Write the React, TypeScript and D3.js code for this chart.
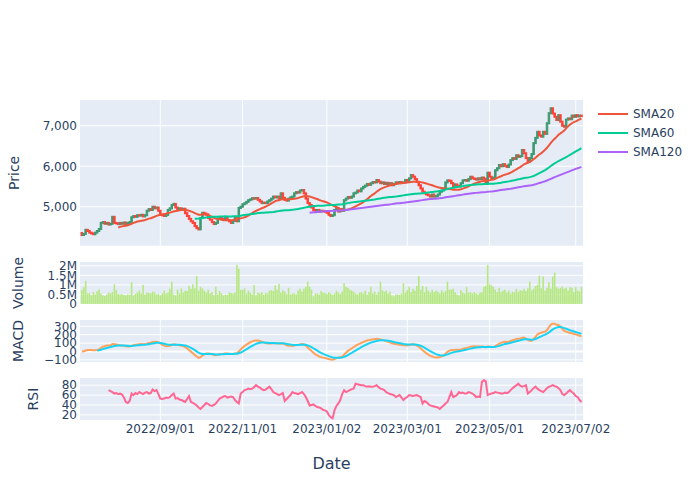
import React from "react";
import * as d3 from "d3";

// ---------- data ----------
const startDate = "2022-07-06";
const endDate = "2023-07-06";
const firstOpen = 4350;
const closes = [
  4300, 4330, 4430, 4400, 4360, 4340, 4320, 4360, 4400, 4450,
  4600, 4620, 4580, 4600, 4560, 4580, 4750, 4600, 4590, 4570,
  4600, 4580, 4610, 4570, 4600, 4620, 4740, 4770, 4750, 4790,
  4780, 4800, 4760, 4790, 4900, 4940, 4920, 5000, 4960, 4980,
  4900, 4800, 4790, 4770, 4800, 4920, 4960, 5040, 5070, 4980,
  4940, 4960, 4920, 4950, 4840, 4770, 4700, 4640, 4600, 4520,
  4470, 4440, 4720, 4850, 4830, 4810, 4720, 4680, 4620, 4572,
  4600, 4700, 4740, 4700, 4680, 4720, 4670, 4640, 4600, 4650,
  4720, 4640, 4970, 5000, 5060, 5084, 5120, 5160, 5180, 5210,
  5200, 5215, 5170, 5130, 5090, 5100, 5090, 5130, 5160, 5200,
  5250, 5230, 5250, 5200, 5330, 5220, 5170, 5150, 5200, 5230,
  5250, 5330, 5360, 5350, 5400, 5412, 5330, 5200, 5090, 5040,
  4980, 4920, 4900, 4920, 4880, 4900, 4890, 4880, 4850, 4800,
  4770, 4790, 4920, 4970, 4880, 4940, 4900, 5160, 5200, 5240,
  5220, 5250, 5330, 5350, 5400, 5380, 5450, 5490, 5520, 5560,
  5540, 5580, 5610, 5600, 5660, 5620, 5580, 5600, 5560, 5590,
  5550, 5580, 5530, 5560, 5600, 5580, 5610, 5590, 5600, 5660,
  5640, 5700, 5780, 5740, 5680, 5610, 5530, 5450, 5370, 5330,
  5300, 5280, 5250, 5300, 5250, 5260, 5300, 5370, 5400, 5450,
  5600, 5650, 5640, 5580, 5480, 5550, 5520, 5500, 5580, 5650,
  5660, 5640, 5680, 5740, 5700, 5690, 5670, 5700, 5680, 5720,
  5690, 5600, 5840, 5740, 5700, 5720, 5900, 5950, 6030, 6000,
  6050, 6010, 5980, 6040, 6150, 6200, 6180, 6270, 6230, 6250,
  6400, 6320, 6200, 6110, 6200, 6300, 6570, 6700, 6850, 6760,
  6730, 6850, 6800, 7060, 7310, 7430, 7300, 7220, 7140, 7260,
  7100, 7000, 6975, 7150, 7180, 7160, 7250, 7220, 7260, 7230,
  7250, 7240,
];
const volumesM = [
  0.74, 0.88, 1.21, 0.55, 0.58, 0.45, 0.62, 0.5, 0.66, 0.77,
  0.55, 0.45, 0.42, 0.5, 0.6, 0.55, 0.62, 1.03, 0.74, 0.52,
  0.5, 0.52, 0.48, 0.45, 0.5, 0.48, 1.14, 0.45, 0.52, 0.6,
  0.7, 0.55, 1.0, 0.5, 0.6, 0.58, 0.55, 0.65, 0.62, 0.5,
  0.52, 0.45, 0.55, 0.7, 0.55, 0.6, 0.8, 1.17, 0.5, 0.45,
  0.75, 0.55, 0.82, 0.6, 0.7, 0.68, 0.96, 0.8, 1.03, 0.82,
  1.47, 0.7, 0.9, 0.82, 0.7, 0.6, 0.75, 0.55, 0.62, 0.45,
  0.9, 0.5, 0.68, 0.55, 0.45, 0.5, 0.48, 0.6, 0.58, 0.55,
  0.6, 2.05, 1.84, 0.74, 0.74, 0.82, 0.55, 0.7, 0.6, 0.5,
  1.0, 0.45, 0.6, 0.55, 0.62, 0.48, 0.58, 0.55, 0.7, 0.72,
  0.68, 0.98, 0.75, 1.05, 0.6, 0.72, 0.65, 0.52, 0.85, 0.5,
  0.55, 0.55, 0.5, 0.7, 0.8, 0.65, 0.8, 0.9, 1.17, 0.9,
  0.75, 0.4, 0.55, 0.55, 0.5, 0.68, 0.6, 0.58, 0.52, 0.62,
  0.55, 0.48, 0.55, 0.7, 0.6, 0.52, 0.65, 1.09, 0.9, 0.85,
  0.75, 0.7, 0.65, 0.55, 0.5, 0.6, 0.62, 0.55, 0.7, 0.5,
  0.62, 0.9, 0.55, 0.65, 0.5, 0.62, 1.17, 0.72, 0.65, 0.7,
  0.55, 0.65, 0.45, 0.4, 0.5, 0.5, 0.48, 0.55, 1.09, 0.6,
  0.72, 0.9, 0.62, 0.8, 0.7, 0.95, 1.47, 0.75, 0.95, 0.62,
  0.9, 0.7, 0.6, 0.75, 0.62, 0.7, 0.65, 0.55, 0.72, 0.6,
  0.68, 1.17, 0.75, 0.75, 0.8, 0.62, 0.5, 0.45, 0.72, 0.6,
  0.55, 0.9, 0.6, 0.62, 0.55, 0.62, 0.55, 0.5, 0.6, 0.62,
  0.9, 0.95, 2.05, 1.03, 0.98, 0.9, 0.75, 0.62, 0.85, 0.62,
  0.7, 0.75, 0.6, 0.7, 0.55, 0.65, 0.62, 0.8, 0.62, 0.72,
  0.7, 0.8, 0.68, 0.82, 1.17, 0.72, 0.8, 0.95, 1.0, 1.49,
  0.82, 1.44, 0.7, 0.85, 1.14, 0.8, 1.44, 1.65, 0.88, 0.8,
  0.85, 0.92, 0.8, 0.85, 0.7, 0.88, 0.85, 0.62, 0.88, 0.7,
  0.65, 0.9,
];
// RSI(14), starting at trading day index 14
const rsiStart = 14;
const rsiValues = [
  70, 68, 66, 63, 64, 62, 63, 61, 55, 46,
  44, 48, 63, 60, 64, 62, 66, 64, 62, 65,
  66, 63, 64, 71, 68, 70, 62, 53, 52, 53,
  55, 54, 56, 60, 63, 53, 54, 51, 50, 48,
  46, 52, 58, 46, 44, 42, 39, 35, 32, 36,
  40, 44, 42, 39, 38, 40, 43, 48, 53, 55,
  57, 58, 55, 56, 57, 56, 50, 46, 43, 63,
  66, 70, 71, 73, 72, 73, 76, 80, 77, 75,
  72, 70, 71, 74, 77, 72, 66, 64, 62, 60,
  62, 64, 48, 52, 56, 60, 66, 64, 63, 62,
  64, 66, 62, 56, 48, 39, 40, 41, 38, 36,
  35, 33, 30, 29, 27, 20, 15, 13, 29, 38,
  43, 50, 62, 70, 66, 68, 70, 72, 73, 83,
  82, 81, 80, 80, 78, 77, 78, 77, 77, 78,
  80, 76, 73, 72, 70, 66, 64, 62, 61, 60,
  56, 58, 60, 55, 50, 54, 56, 60, 59, 58,
  59, 60, 58, 56, 43, 48, 46, 42, 39, 38,
  37, 36, 35, 32, 36, 39, 43, 46, 56, 66,
  56, 58, 60, 66, 64, 65, 63, 63, 66, 65,
  63, 60, 56, 57, 56, 87, 90, 88, 60, 62,
  63, 64, 66, 65, 64, 63, 63, 65, 64, 66,
  70, 74, 77, 80, 83, 79, 77, 78, 80, 63,
  66, 70, 74, 77, 73, 70, 68, 66, 70, 74,
  77, 78, 80, 78, 77, 74, 70, 62, 60, 63,
  67, 70, 66, 63, 58, 56, 50, 46,
];
const tickDates = ["2022-09-01", "2022-11-01", "2023-01-02", "2023-03-01", "2023-05-01", "2023-07-02"];
const priceTicks = [5000, 6000, 7000];
const volumeTicks = [0, 0.5e6, 1e6, 1.5e6, 2e6];
const volumeTickLabels = ["0", "0.5M", "1M", "1.5M", "2M"];
const macdTicks = [-100, 0, 100, 200, 300];
const rsiTicks = [20, 40, 60, 80];
const smaPeriods = [20, 60, 120];
const smaNames = ["SMA20", "SMA60", "SMA120"];
const smaColors = ["#EF553B", "#00CC96", "#AB63FA"];

// ---------- helpers ----------
function tradingDays(a: string, b: string): Date[] {
  const out: Date[] = [];
  const d = new Date(a + "T00:00:00Z");
  const end = new Date(b + "T00:00:00Z");
  while (d <= end) {
    const w = d.getUTCDay();
    if (w !== 0 && w !== 6) out.push(new Date(d));
    d.setUTCDate(d.getUTCDate() + 1);
  }
  return out;
}
function sma(arr: number[], p: number): (number | null)[] {
  return arr.map((_, i) => (i >= p - 1 ? d3.mean(arr.slice(i - p + 1, i + 1))! : null));
}
function ema(arr: number[], span: number): number[] {
  const a = 2 / (span + 1);
  const out: number[] = [];
  arr.forEach((v, i) => out.push(i === 0 ? v : a * v + (1 - a) * out[i - 1]));
  return out;
}

const FONT = '"DejaVu Sans", Verdana, sans-serif';
const TXT = "#2a3f5f";
const BG = "#E5ECF6";

export default function App() {
  const N = closes.length;
  const dates = tradingDays(startDate, endDate).slice(0, N);
  const opens = closes.map((c, i) => (i === 0 ? firstOpen : closes[i - 1]));
  const volumes = volumesM.map((v) => v * 1e6);
  const smas = smaPeriods.map((p) => sma(closes, p));
  const e12 = ema(closes, 12);
  const e26 = ema(closes, 26);
  const macd = e12.map((v, i) => v - e26[i]);
  const signal = ema(macd, 9);
  const rsi: (number | null)[] = closes.map((_, i) =>
    i >= rsiStart && i - rsiStart < rsiValues.length ? rsiValues[i - rsiStart] : null
  );

  const L = 80, R = 583;
  const x = d3.scaleLinear().domain([-0.95, N - 0.2]).range([L, R]);
  const idxOf = (s: string) => {
    const t = new Date(s + "T00:00:00Z").getTime();
    return dates.findIndex((d) => d.getTime() >= t);
  };
  const ticks = tickDates.map((s) => ({ i: idxOf(s), label: s.replace(/-/g, "/") }));

  const panels = {
    price: { top: 100, bottom: 245.7 },
    vol: { top: 262, bottom: 304 },
    macd: { top: 320, bottom: 362 },
    rsi: { top: 378, bottom: 420 },
  };
  const yP = d3.scaleLinear().domain([4037, 7635]).range([panels.price.bottom, panels.price.top]);
  const yV = d3.scaleLinear().domain([0, 2.2e6]).range([panels.vol.bottom, panels.vol.top]);
  const yM = d3.scaleLinear().domain([-125, 375]).range([panels.macd.bottom, panels.macd.top]);
  const yR = d3.scaleLinear().domain([9.6, 94.5]).range([panels.rsi.bottom, panels.rsi.top]);

  const lineGen = (y: d3.ScaleLinear<number, number>) =>
    d3
      .line<number | null>()
      .defined((d) => d !== null)
      .x((_, i) => x(i))
      .y((d) => y(d as number));

  const vgrid = (p: { top: number; bottom: number }) =>
    ticks.map((t, k) => (
      <line key={"vg" + k} x1={x(t.i)} x2={x(t.i)} y1={p.top} y2={p.bottom} stroke="#fff" strokeWidth={1} />
    ));
  const hgrid = (vals: number[], y: d3.ScaleLinear<number, number>, zero = false) =>
    vals.map((v, k) => (
      <line key={"hg" + k} x1={L} x2={R} y1={y(v)} y2={y(v)} stroke="#fff" strokeWidth={zero && v === 0 ? 2 : 1} />
    ));
  const yLabels = (vals: number[], y: d3.ScaleLinear<number, number>, fmt: (v: number, k: number) => string) =>
    vals.map((v, k) => (
      <text key={"yl" + k} x={77} y={y(v)} dy="0.36em" textAnchor="end" fontSize={12} fill={TXT} fontFamily={FONT}>
        {fmt(v, k)}
      </text>
    ));
  const clip = (id: string, p: { top: number; bottom: number }) => (
    <clipPath id={id}>
      <rect x={L} y={p.top} width={R - L} height={p.bottom - p.top} />
    </clipPath>
  );
  const title = (t: string, cx: number, cy: number) => (
    <text transform={`translate(${cx},${cy}) rotate(-90)`} textAnchor="middle" dy="0.36em" fontSize={14} fill={TXT} fontFamily={FONT}>
      {t}
    </text>
  );

  const bw = 1.5;
  return (
    <svg width={700} height={500} style={{ position: "absolute", left: 0, top: 0, background: "#fff" }}>
      <defs>
        {clip("cp", panels.price)}
        {clip("cv", panels.vol)}
        {clip("cm", panels.macd)}
        {clip("cr", panels.rsi)}
      </defs>
      {Object.values(panels).map((p, k) => (
        <rect key={k} x={L} y={p.top} width={R - L} height={p.bottom - p.top} fill={BG} />
      ))}

      {/* Price */}
      {vgrid(panels.price)}
      {hgrid(priceTicks, yP)}
      <g clipPath="url(#cp)">
        {closes.map((c, i) => {
          const o = opens[i];
          const up = c >= o;
          const col = up ? "#3D9970" : "#FF4136";
          const y1 = yP(Math.max(o, c));
          const y2 = yP(Math.min(o, c));
          return (
            <rect key={i} x={x(i) - bw / 2} y={y1 - 0.5} width={bw} height={Math.max(y2 - y1, 0.5) + 1} fill={col} stroke={col} strokeWidth={1} />
          );
        })}
        {smas.map((s, k) => (
          <path key={k} d={lineGen(yP)(s) || ""} fill="none" stroke={smaColors[k]} strokeWidth={2} />
        ))}
      </g>
      {yLabels(priceTicks, yP, (v) => d3.format(",")(v))}
      {title("Price", 14, (panels.price.top + panels.price.bottom) / 2)}

      {/* Volume */}
      {hgrid(volumeTicks, yV)}
      <g clipPath="url(#cv)">
        {volumes.map((v, i) => (
          <rect key={i} x={x(i) - 0.8} y={yV(v)} width={1.6} height={yV(0) - yV(v)} fill="#B6E880" />
        ))}
      </g>
      {yLabels(volumeTicks, yV, (_, k) => volumeTickLabels[k])}
      {title("Volume", 18, (panels.vol.top + panels.vol.bottom) / 2)}

      {/* MACD */}
      {vgrid(panels.macd)}
      {hgrid(macdTicks, yM, true)}
      <g clipPath="url(#cm)">
        <path d={lineGen(yM)(macd) || ""} fill="none" stroke="#FFA15A" strokeWidth={2} />
        <path d={lineGen(yM)(signal.map((v, i) => (i >= 8 ? v : null))) || ""} fill="none" stroke="#19D3F3" strokeWidth={2} />
      </g>
      {yLabels(macdTicks, yM, (v) => (v < 0 ? "\u2212" + Math.abs(v) : String(v)))}
      {title("MACD", 18, (panels.macd.top + panels.macd.bottom) / 2)}

      {/* RSI */}
      {vgrid(panels.rsi)}
      {hgrid(rsiTicks, yR)}
      <g clipPath="url(#cr)">
        <path d={lineGen(yR)(rsi) || ""} fill="none" stroke="#FF6692" strokeWidth={2} />
      </g>
      {yLabels(rsiTicks, yR, (v) => String(v))}
      {title("RSI", 33, (panels.rsi.top + panels.rsi.bottom) / 2)}

      {/* X axis */}
      {ticks.map((t, k) => (
        <text key={k} x={x(t.i)} y={433} textAnchor="middle" fontSize={12} fill={TXT} fontFamily={FONT}>
          {t.label}
        </text>
      ))}
      <text x={(L + R) / 2} y={469} textAnchor="middle" fontSize={16} fill={TXT} fontFamily={FONT}>
        Date
      </text>

      {/* Legend */}
      {smaNames.map((n, k) => (
        <g key={n} transform={`translate(598,${114 + k * 19})`}>
          <line x1={0} x2={30} y1={0} y2={0} stroke={smaColors[k]} strokeWidth={2} />
          <text x={35} y={0} dy="0.36em" fontSize={12} fill={TXT} fontFamily={FONT}>
            {n}
          </text>
        </g>
      ))}
    </svg>
  );
}
